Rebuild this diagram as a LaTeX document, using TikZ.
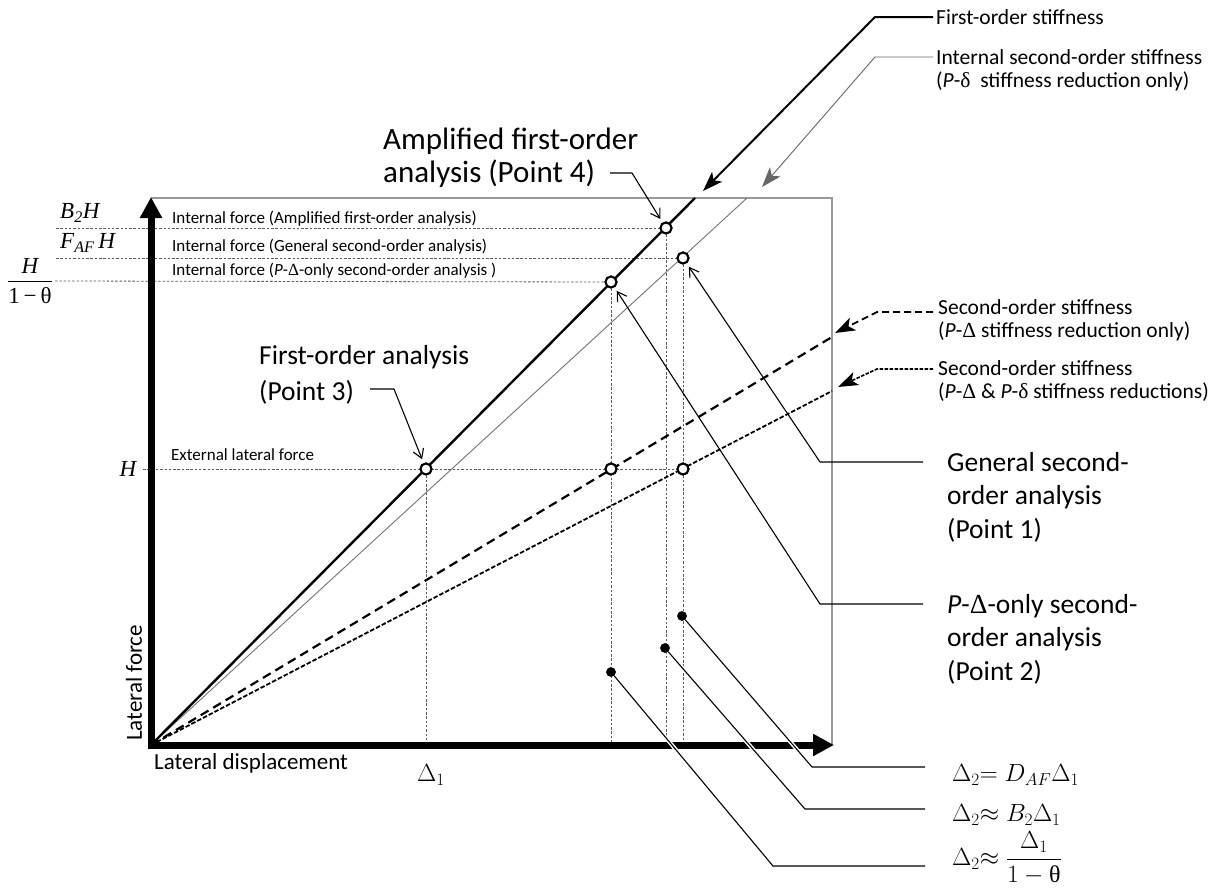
\documentclass[tikz,border=0pt]{standalone}
\usepackage{fontspec}
\setmainfont{Carlito}
\newfontfamily\tms{Liberation Serif}
\newfontfamily\grk{Liberation Serif}
\usetikzlibrary{arrows.meta}
\definecolor{framec}{gray}{0.6}
\definecolor{guidec}{gray}{0.35}
\begin{document}
\begin{tikzpicture}[x=1pt,y=-1pt,
  lbl/.style={inner sep=0pt, anchor=west, align=left},
  tint/.style={lbl, font=\fontsize{17}{20}\selectfont},
  tstf/.style={lbl, font=\fontsize{21.5}{23}\selectfont},
  tbig/.style={lbl, font=\fontsize{27.5}{33.5}\selectfont},
  tbigger/.style={lbl, font=\fontsize{31}{33}\selectfont},
  tax/.style={lbl, font=\fontsize{23}{26}\selectfont},
  tmath/.style={lbl, font=\fontsize{24}{28}\selectfont},
  ttms/.style={inner sep=0pt, font=\tms\fontsize{23}{26}\selectfont},
  guide/.style={guidec, line width=0.8, dash pattern=on 2.5 off 1.8},
  opt/.style={circle, draw, fill=white, line width=2, minimum size=11, inner sep=0},
  dotp/.style={circle, fill=black, minimum size=9.5, inner sep=0},
  lead/.style={line width=1.1, -{Straight Barb[length=9, width=11]}, shorten >=4},
  bigtip/.style={-{Stealth[length=20, width=14, inset=5]}},
  dlead/.style={line width=1.1, preaction={draw=white, line width=4}}
]
\useasboundingbox (0,0) rectangle (1210,892);

% key coordinates
\coordinate (O) at (151,745);
\coordinate (T1) at (695,198);
\coordinate (T2) at (747,198);
\coordinate (E3) at (832,337);
\coordinate (E4) at (832,391);

% frame
\draw[framec, line width=1.6] (151,198) -- (832,198) -- (832,745);

% points
\node[opt] (p4) at (666,228) {};
\node[opt] (p1) at (683,258) {};
\node[opt] (p2) at (611,282) {};
\node[opt] (p3) at (426,469) {};
\node[opt] (h2) at (611,469) {};
\node[opt] (h1) at (683,469) {};
\node[dotp] (d1) at (682,616) {};
\node[dotp] (d2) at (665,648) {};
\node[dotp] (d3) at (611,672) {};

% guide lines
\coordinate (gB) at (56,228);
\coordinate (gF) at (56,258);
\coordinate (gT) at (55,281);
\coordinate (gH) at (143,469);
\coordinate (v3) at (426,745);
\coordinate (v2) at (611,745);
\coordinate (v4) at (666,745);
\coordinate (v1) at (683,745);
\draw[guide] (gB) -- (p4);
\draw[guide] (gF) -- (p1);
\draw[guide] (gT) -- (p2);
\draw[guide] (gH) -- (h1);
\draw[guide] (p3) -- (v3);
\draw[guide] (p2) -- (v2);
\draw[guide] (p4) -- (v4);
\draw[guide] (p1) -- (v1);

% stiffness lines
\draw[black!55, line width=0.9] (O) -- (T2);
\draw[line width=2.2, dash pattern=on 9 off 5.5] (O) -- (E3);
\draw[line width=1.8, dash pattern=on 4.5 off 2] (O) -- (E4);
\draw[line width=2.4] (O) -- (T1);

% axes
\draw[line width=7, line join=miter, {Triangle[length=21, width=21]}-{Triangle[length=21, width=21]}] (151,197) -- (O) -- (834,745);

% redraw points on top
\node[opt] at (p4) {};
\node[opt] at (p1) {};
\node[opt] at (p2) {};
\node[opt] at (p3) {};
\node[opt] at (h2) {};
\node[opt] at (h1) {};

% left labels
\node[ttms, anchor=west] (lB) at (60,213) {\itshape B\textsubscript{2}H};
\node[ttms, anchor=west] (lF) at (60,243) {\itshape F\textsubscript{AF}\,H};
\node[ttms] (lHn) at (30,266) {\itshape H};
\node[ttms] (lHd) at (30,296) {1\,\textminus\,θ};
\coordinate (fb1) at (8,281);
\coordinate (fb2) at (52,281);
\draw[line width=1] (fb1) -- (fb2);
\node[ttms] (lH) at (128,469) {\itshape H};

\node[tint] (i1) at (172,219) {Internal force (Amplified first-order analysis)};
\node[tint] (i2) at (172,247) {Internal force (General second-order analysis)};
\node[tint] (i3) at (172,271) {Internal force ({\itshape P}-{\grk Δ}-only second-order analysis )};
\node[tint] (ext) at (171,455) {External lateral force};

% axis labels
\node[tax, rotate=90] (ylab) at (134,741) {Lateral force};
\node[tax] (xlab) at (154,763) {Lateral displacement};
\node[tmath] (d1lab) at (417,775) {$\Delta_1$};

% stiffness labels and leaders
\node[tstf] (fos) at (936,17) {First-order stiffness};
\node[tstf] (iss) at (936,70) {Internal second-order stiffness\\({\itshape P}-{\grk δ}\ \ stiffness reduction only)};
\node[tstf] (sos1) at (938,320) {Second-order stiffness\\({\itshape P}-{\grk Δ} stiffness reduction only)};
\node[tstf] (sos2) at (938,381) {Second-order stiffness\\({\itshape P}-{\grk Δ} \& {\itshape P}-{\grk δ} stiffness reductions)};

\coordinate (k1a) at (933,17);  \coordinate (k1b) at (875,17);  \coordinate (a1) at (703,191);
\coordinate (k2a) at (933,57);  \coordinate (k2b) at (875,57);  \coordinate (a2) at (762,187);
\coordinate (k3a) at (933,312); \coordinate (k3b) at (877,312); \coordinate (a3) at (835,333);
\coordinate (k4a) at (933,369); \coordinate (k4b) at (877,369); \coordinate (a4) at (838,387);
\draw[line width=2, bigtip] (k1a) -- (k1b) -- (a1);
\draw[black!60, line width=0.9, bigtip] (k2a) -- (k2b) -- (a2);
\draw[line width=1.8, dash pattern=on 7 off 4, bigtip] (k3a) -- (k3b) -- (a3);
\draw[line width=1.6, dash pattern=on 3.5 off 1.5, bigtip] (k4a) -- (k4b) -- (a4);

% analysis point labels
\node[tbigger] (L4) at (383,158) {Amplified first-order\\analysis (Point 4)};
\node[tbig, font=\fontsize{27.5}{36}\selectfont] (L3) at (259,375) {First-order analysis\\(Point 3)};
\node[tbig] (L1) at (947,497) {General second-\\order analysis\\(Point 1)};
\node[tbig] (L2) at (947,639) {{\itshape P}-{\grk Δ}-only second-\\order analysis\\(Point 2)};

\coordinate (q4a) at (610,173); \coordinate (q4b) at (632,173);
\coordinate (q3a) at (370,389); \coordinate (q3b) at (394,389);
\coordinate (q1a) at (923,462); \coordinate (q1b) at (820,462);
\coordinate (q2a) at (923,604); \coordinate (q2b) at (820,604);
\draw[lead] (q4a) -- (q4b) -- (p4);
\draw[lead] (q3a) -- (q3b) -- (p3);
\draw[lead] (q1a) -- (q1b) -- (p1);
\draw[lead] (q2a) -- (q2b) -- (p2);

% displacement formulas
\node[tmath] (f1) at (952,775) {$\Delta_2{=}\;D_{AF}\Delta_1$};
\node[tmath] (f2) at (952,815) {$\Delta_2{\approx}\;B_2\Delta_1$};
\node[tmath] (f3) at (952,858) {$\Delta_2{\approx}\;\displaystyle\frac{\Delta_1}{1-\mbox{\tms θ}}$};

\coordinate (r1a) at (812,767); \coordinate (r1b) at (925,767);
\coordinate (r2a) at (805,809); \coordinate (r2b) at (925,809);
\coordinate (r3a) at (773,866); \coordinate (r3b) at (925,866);
\draw[dlead] (d1) -- (r1a) -- (r1b);
\draw[dlead] (d2) -- (r2a) -- (r2b);
\draw[dlead] (d3) -- (r3a) -- (r3b);
\node[dotp] at (d1) {};
\node[dotp] at (d2) {};
\node[dotp] at (d3) {};
\end{tikzpicture}
\end{document}
